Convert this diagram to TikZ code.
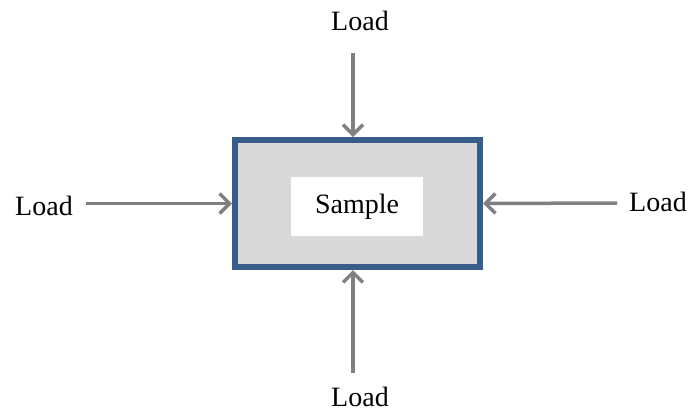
\documentclass[tikz,border=0pt]{standalone}
\usepackage{fontspec}
\setmainfont{Liberation Serif}
\usetikzlibrary{arrows.meta}
\definecolor{frameblue}{HTML}{385D8A}
\definecolor{samplegray}{HTML}{D9D9D9}
\definecolor{loadgray}{HTML}{808080}
\begin{document}
\begin{tikzpicture}[x=1pt,y=-1pt,
  lbl/.style={font=\fontsize{28}{30}\selectfont, inner sep=0pt},
  loadarrow/.style={draw=loadgray, line width=3.5pt,
    -{Straight Barb[length=10pt,width=20pt,line width=3.5pt]}}]
  \useasboundingbox (0,0) rectangle (691,413);
  % specimen body
  \draw[frameblue, fill=samplegray, line width=6pt] (235,140) rectangle (480,267);
  \node[fill=white, minimum width=132pt, minimum height=59pt, inner sep=0pt] (sample) at (357,206.5) {};
  \node[lbl] at (sample) {Sample};
  % applied loads
  \node[lbl] (ltop) at (360,21) {Load};
  \node[lbl] (lbot) at (360,397) {Load};
  \node[lbl] (lleft) at (44,206) {Load};
  \node[lbl] (lright) at (658,202) {Load};
  \coordinate (stop) at (353,53);
  \coordinate (sbot) at (353,373);
  \coordinate (sleft) at (86,203.5);
  \coordinate (sright) at (617,203);
  \coordinate (ttop) at (353,137);
  \coordinate (tbot) at (353,270);
  \coordinate (tleft) at (232,203.5);
  \coordinate (tright) at (483,203.5);
  \draw[loadarrow] (stop) -- (ttop);
  \draw[loadarrow] (sbot) -- (tbot);
  \draw[loadarrow] (sleft) -- (tleft);
  \draw[loadarrow] (sright) -- (tright);
\end{tikzpicture}
\end{document}
